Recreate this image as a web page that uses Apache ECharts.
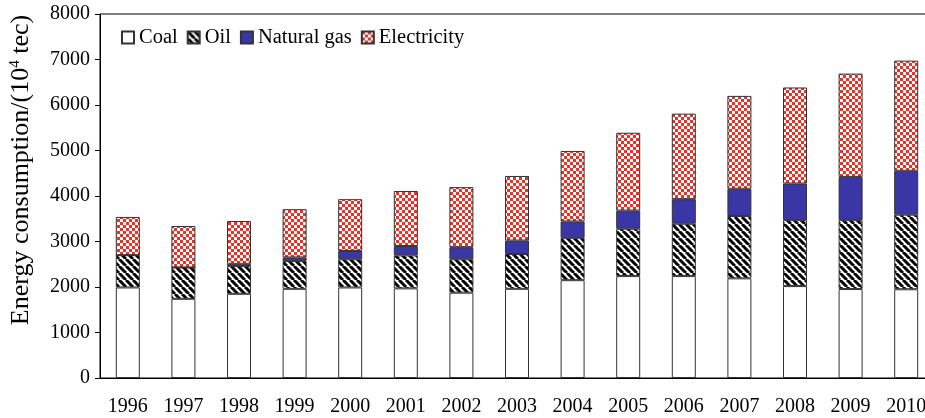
<!DOCTYPE html>
<html>
<head>
<meta charset="utf-8">
<script src="https://cdn.jsdelivr.net/npm/echarts@6/dist/echarts.min.js"></script>
<style>
html,body{margin:0;padding:0;background:#fff;}
#chart{width:925px;height:418px;}
</style>
</head>
<body>
<div id="chart"></div>
<script>
// ---- data ----
var years = ['1996','1997','1998','1999','2000','2001','2002','2003','2004','2005','2006','2007','2008','2009','2010'];
var coal  = [1990,1740,1850,1960,1990,1970,1875,1960,2150,2240,2240,2190,2020,1955,1950];
var oil   = [710,690,610,610,620,725,735,765,930,1040,1150,1370,1450,1515,1640];
var gas   = [0,0,50,80,180,205,265,295,360,400,540,600,805,950,965];
var elec  = [840,910,940,1060,1140,1210,1320,1420,1550,1710,1880,2040,2110,2270,2420];
var seriesNames = ['Coal','Oil','Natural gas','Electricity'];
var yTicks = {min:0, max:8000, interval:1000};

// ---- patterns (style) ----
function stripePattern(){
  var s = 7, c = document.createElement('canvas');
  c.width = s; c.height = s;
  var g = c.getContext('2d');
  g.fillStyle = '#fff'; g.fillRect(0,0,s,s);
  g.strokeStyle = '#000'; g.lineWidth = 3;
  for (var k=-1;k<=1;k++){
    g.beginPath(); g.moveTo(k*s, 0); g.lineTo(k*s + s, s); g.stroke();
  }
  return {image:c, repeat:'repeat'};
}
function checkPattern(){
  var cell = 3, c = document.createElement('canvas');
  c.width = cell*2; c.height = cell*2;
  var g = c.getContext('2d');
  g.fillStyle = '#fff'; g.fillRect(0,0,cell*2,cell*2);
  g.fillStyle = '#e3342a';
  g.fillRect(0,0,cell,cell); g.fillRect(cell,cell,cell,cell);
  return {image:c, repeat:'repeat'};
}

var FONT = 'Liberation Serif';
var fills = ['#ffffff', stripePattern(), '#3b36a6', checkPattern()];
var values = [coal, oil, gas, elec];

var series = seriesNames.map(function(n,i){
  return {
    name:n, type:'bar', stack:'total', barWidth:24,
    data: values[i],
    itemStyle:{color:fills[i], borderColor:'#333', borderWidth:1},
    emphasis:{disabled:true}
  };
});

var chart = echarts.init(document.getElementById('chart'), null, {renderer:'canvas'});
chart.setOption({
  animation:false,
  backgroundColor:'#fff',
  grid:{left:100, width:834, top:14, height:364, outerBoundsMode:'none', containLabel:false,
        show:true, borderColor:'#000', borderWidth:1, backgroundColor:'transparent'},
  legend:{
    left:116, top:22, itemWidth:12, itemHeight:12, itemGap:9,
    icon:'rect',
    textStyle:{fontFamily:FONT, fontSize:20.5, color:'#000'},
    data: seriesNames
  },
  xAxis:{
    type:'category', data:years,
    axisLine:{lineStyle:{color:'#000', width:1}},
    axisTick:{inside:true, length:6, interval:0, lineStyle:{color:'#000'}},
    axisLabel:{fontFamily:FONT, fontSize:20, color:'#000', margin:19, interval:0}
  },
  yAxis:{
    type:'value', min:yTicks.min, max:yTicks.max, interval:yTicks.interval,
    name:'{a|Energy consumption/(10}{s|4}{a| tec)}',
    nameLocation:'middle', nameGap:66, nameRotate:90,
    nameTextStyle:{
      padding:[0,0,0,52],
      rich:{
        a:{fontFamily:FONT, fontSize:26, color:'#000'},
        s:{fontFamily:FONT, fontSize:15, color:'#000', verticalAlign:'top', padding:[0,0,10,0]}
      }
    },
    axisLine:{show:true, lineStyle:{color:'#000', width:1}},
    axisTick:{show:true, inside:false, length:5, lineStyle:{color:'#000'}},
    axisLabel:{fontFamily:FONT, fontSize:20, color:'#000', margin:10, formatter:function(v){return String(v);}},
    splitLine:{show:false}
  },
  series: series
});
</script>
</body>
</html>
